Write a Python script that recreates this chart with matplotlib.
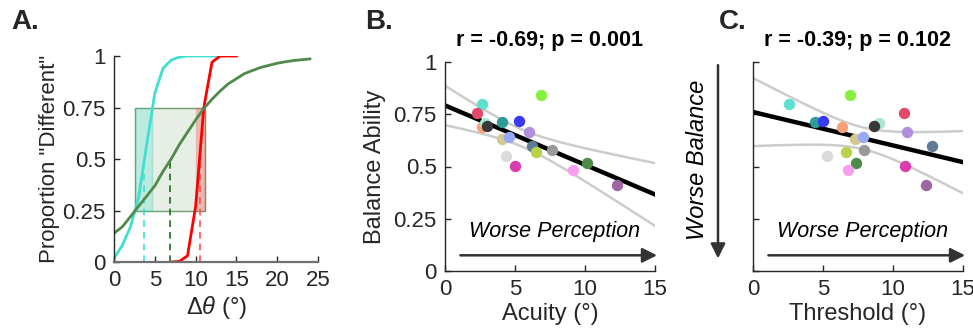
import numpy as np
import matplotlib.pyplot as plt
from matplotlib.patches import Rectangle

plt.rcParams['font.family'] = ['Liberation Sans', 'DejaVu Sans']
plt.rcParams['mathtext.fontset'] = 'custom'
plt.rcParams['mathtext.rm'] = 'Liberation Sans'
plt.rcParams['mathtext.it'] = 'Liberation Sans:italic'

# --- psychometric curves (panel A) ---
acu_x = np.arange(0, 14)
acu_p = [0.018, 0.08, 0.17, 0.31, 0.57, 0.82, 0.94, 0.98, 0.995, 1, 1, 1, 1, 1]
thr_x = np.arange(7, 16)
thr_p = [0.0, 0.003, 0.03, 0.27, 0.75, 0.97, 1.0, 1.0, 1.0]
fit_x = np.arange(0, 25)
fit_p = [0.14, 0.17, 0.22, 0.27, 0.32, 0.37, 0.44, 0.50, 0.57, 0.63, 0.69, 0.745,
         0.79, 0.83, 0.865, 0.89, 0.915, 0.93, 0.945, 0.955, 0.965, 0.972, 0.978,
         0.982, 0.986]
# 25% / 50% / 75% crossings
acu_q = [2.6, 3.7, 4.7]
thr_q = [10.0, 10.5, 11.1]
fit_q = [2.6, 6.9, 11.1]

# --- per-subject data (panels B, C) ---
balance = [0.797, 0.756, 0.689, 0.708, 0.692, 0.711, 0.718, 0.842, 0.665, 0.633,
           0.640, 0.597, 0.569, 0.577, 0.552, 0.501, 0.518, 0.482, 0.410]
acuity = [2.67, 2.26, 2.67, 2.86, 2.98, 4.10, 5.26, 6.88, 5.98, 4.05,
          4.57, 6.21, 6.52, 7.67, 4.33, 5.02, 10.12, 9.14, 12.31]
threshold = [2.59, 10.8, 6.34, 9.02, 8.62, 4.41, 5.03, 6.91, 10.97, 7.26,
             7.83, 12.77, 6.62, 7.90, 5.32, 10.87, 7.38, 6.81, 12.34]
colors = ['#5EDFD0', '#E34A6A', '#F9A07A', '#A8E8D0', '#383838', '#2E9C98',
          '#3A3AF5', '#88F040', '#B28FDC', '#D2C890', '#98A8F8', '#5F7B95',
          '#B8D24A', '#9A9A9A', '#DADADA', '#D83CAE', '#4E8A48', '#F8A0F0',
          '#A066A4']
titles = ['r = -0.69; p = 0.001', 'r = -0.39; p = 0.102']

cyan = '#40E0D0'
red = '#FF0000'
green = '#4F8A4B'
axc = '#262626'
fs_tick = 16
fs_lab = 17

fig = plt.figure(figsize=(9.73, 3.33), dpi=100)
axA = fig.add_axes([0.1172, 0.2132, 0.2097, 0.6186])
axB = fig.add_axes([0.4573, 0.1862, 0.2158, 0.6276])
axC = fig.add_axes([0.7739, 0.1862, 0.2158, 0.6276])


def style(ax):
    for s in ['top', 'right']:
        ax.spines[s].set_visible(False)
    for s in ['left', 'bottom']:
        ax.spines[s].set_color(axc)
        ax.spines[s].set_linewidth(1.0)
    ax.tick_params(direction='in', length=4, width=1, colors=axc,
                   labelsize=fs_tick, labelcolor=axc, pad=6)


# panel A: psychometric functions with 25-75% spans
style(axA)
axA.spines['bottom'].set_color('#707070')
axA.spines['bottom'].set_linewidth(1.6)
axA.add_patch(Rectangle((fit_q[0], 0.25), fit_q[2] - fit_q[0], 0.5,
                        facecolor=green, alpha=0.14, edgecolor='none'))
axA.add_patch(Rectangle((fit_q[0], 0.25), fit_q[2] - fit_q[0], 0.5,
                        facecolor='none', edgecolor=green, lw=1.0, alpha=0.8))
axA.add_patch(Rectangle((acu_q[0], 0.25), acu_q[2] - acu_q[0], 0.5,
                        facecolor=cyan, alpha=0.25, edgecolor='#2FB59E', lw=1.0))
axA.add_patch(Rectangle((thr_q[0], 0.25), thr_q[2] - thr_q[0], 0.5,
                        facecolor=red, alpha=0.22, edgecolor='#E06060', lw=1.0))
axA.plot([acu_q[1]] * 2, [0, 0.5], ls='--', color=cyan, lw=1.2, dashes=(4, 3))
axA.plot([fit_q[1]] * 2, [0, 0.5], ls='--', color='#1E6B1E', lw=1.2, dashes=(4, 3))
axA.plot([thr_q[1]] * 2, [0, 0.5], ls='--', color='#FF5050', lw=1.2, dashes=(4, 3))
axA.plot(acu_x, acu_p, color=cyan, lw=2)
axA.plot(thr_x, thr_p, color=red, lw=2)
axA.plot(fit_x, fit_p, color=green, lw=2)
axA.set_xlim(0, 25)
axA.set_ylim(0, 1)
axA.set_xticks([0, 5, 10, 15, 20, 25])
axA.set_yticks([0, 0.25, 0.5, 0.75, 1])
axA.set_yticklabels(['0', '0.25', '0.5', '0.75', '1'])
axA.set_xlabel(r'$\Delta\theta$ (°)', fontsize=fs_lab, color=axc, labelpad=2)
axA.set_ylabel('Proportion "Different"', fontsize=16, color=axc, labelpad=2)


def scatter_panel(ax, x, title):
    style(ax)
    x = np.asarray(x)
    y = np.asarray(balance)
    n = len(x)
    # least-squares line with 95% confidence band of the mean
    b, a = np.polyfit(x, y, 1)
    xs = np.linspace(0, 15, 200)
    yfit = a + b * xs
    resid = y - (a + b * x)
    s = np.sqrt(np.sum(resid ** 2) / (n - 2))
    sxx = np.sum((x - x.mean()) ** 2)
    half = 2.11 * s * np.sqrt(1 / n + (xs - x.mean()) ** 2 / sxx)
    ax.plot(xs, yfit + half, color='#CCCCCC', lw=1.8)
    ax.plot(xs, yfit - half, color='#CCCCCC', lw=1.8)
    ax.plot(xs, yfit, color='black', lw=3.2)
    for xi, yi, c in zip(x, y, colors):
        ax.plot(xi, yi, 'o', color=c, markersize=8.2, markeredgewidth=0)
    ax.set_xlim(0, 15)
    ax.set_ylim(0, 1)
    ax.set_xticks([0, 5, 10, 15])
    ax.set_yticks([0, 0.25, 0.5, 0.75, 1])
    ax.text(0.5, 1.105, title, transform=ax.transAxes, ha='center', va='center',
            fontsize=15.5, fontweight='bold', color='black')
    ax.annotate('', xy=(15.15, 0.075), xytext=(1.1, 0.075),
                arrowprops=dict(arrowstyle='-|>', color='#333333', lw=1.8,
                                mutation_scale=22, shrinkA=0, shrinkB=0),
                annotation_clip=False)
    ax.text(7.8, 0.19, 'Worse Perception', ha='center', va='center',
            fontsize=15.5, style='italic', color='black')


scatter_panel(axB, acuity, titles[0])
axB.set_yticklabels(['0', '0.25', '0.5', '0.75', '1'])
axB.set_xlabel('Acuity (°)', fontsize=fs_lab, color=axc, labelpad=2)
axB.set_ylabel('Balance Ability', fontsize=fs_lab, color=axc, labelpad=5)

scatter_panel(axC, threshold, titles[1])
axC.set_yticklabels([])
axC.set_xlabel('Threshold (°)', fontsize=fs_lab, color=axc, labelpad=2)
axC.annotate('', xy=(-2.5, 0.06), xytext=(-2.5, 0.985),
             arrowprops=dict(arrowstyle='-|>', color='#333333', lw=1.8,
                             mutation_scale=22, shrinkA=0, shrinkB=0),
             annotation_clip=False)
axC.text(-4.0, 0.53, 'Worse Balance', rotation=90, ha='center', va='center',
         fontsize=fs_lab, style='italic', color='black')

# panel letters
fig.text(0.012, 0.934, 'A.', fontsize=20, fontweight='bold', color='#262626',
         va='center', ha='left')
fig.text(0.375, 0.934, 'B.', fontsize=20, fontweight='bold', color='#262626',
         va='center', ha='left')
fig.text(0.739, 0.934, 'C.', fontsize=20, fontweight='bold', color='#262626',
         va='center', ha='left')

fig.savefig('out.png', dpi=100)
